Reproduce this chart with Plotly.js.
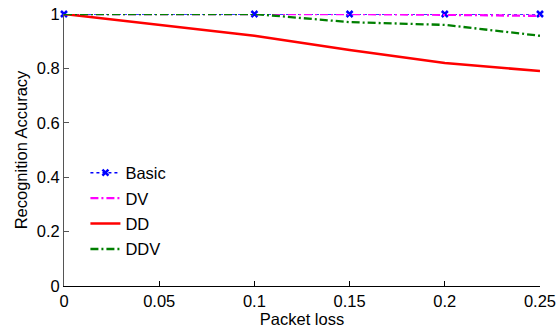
<!DOCTYPE html>
<html><head><meta charset="utf-8">
<script src="https://cdn.plot.ly/plotly-3.0.1.min.js"></script>
<style>body{margin:0;background:#fff}#c{width:558px;height:330px}</style>
</head><body><div id="c"></div>
<script>
const packetLoss = [0, 0.1, 0.15, 0.2, 0.25];
const basic = [1, 1, 1, 1, 1];
const dv = [1, 1, 1, 0.997, 0.993];
const dd = [1, 0.92, 0.868, 0.82, 0.79];
const ddv = [1, 1, 0.97, 0.96, 0.92];
const seriesNames = ['Basic', 'DV', 'DD', 'DDV'];

const traces = [
  {x: packetLoss, y: basic, name: seriesNames[0], mode: 'lines+markers', legendgroup: 'a',
   line: {color: '#0000ff', width: 1.5, dash: 'dot'},
   marker: {symbol: 'x-thin-open', size: 6, color: '#0000ff', line: {width: 2.5, color: '#0000ff'}}},
  {x: packetLoss, y: dv, name: seriesNames[1], mode: 'lines', legendgroup: 'b',
   line: {color: '#ff00ff', width: 2.3, dash: '8px,3px,2px,3px'}},
  {x: packetLoss, y: dd, name: seriesNames[2], mode: 'lines', legendgroup: 'c',
   line: {color: '#ff0000', width: 2.5}},
  {x: packetLoss, y: ddv, name: seriesNames[3], mode: 'lines', legendgroup: 'd',
   line: {color: '#007f00', width: 2.3, dash: '8px,3px,2px,3px'}}
];
traces.forEach(t => t.cliponaxis = false);

const layout = {
  width: 558, height: 330,
  margin: {l: 64, r: 18, t: 14, b: 44},
  paper_bgcolor: '#fff', plot_bgcolor: '#fff',
  font: {family: 'Liberation Sans, Arial, sans-serif', size: 16.5, color: '#000'},
  showlegend: true,
  legend: {x: 0.045, y: 0.48, xanchor: 'left', yanchor: 'top', bgcolor: 'rgba(0,0,0,0)',
           font: {size: 16.5}, tracegroupgap: 1},
  xaxis: {range: [0, 0.25], tickvals: [0, 0.05, 0.1, 0.15, 0.2, 0.25],
          ticktext: ['0', '0.05', '0.1', '0.15', '0.2', '0.25'],
          ticks: 'inside', ticklen: 5, tickcolor: '#000', showgrid: false, zeroline: false,
          showline: true, linecolor: '#000', linewidth: 1,
          title: {text: 'Packet loss', font: {size: 16.5}, standoff: 0}},
  yaxis: {range: [0, 1], tickvals: [0, 0.2, 0.4, 0.6, 0.8, 1],
          ticktext: ['0', '0.2', '0.4', '0.6', '0.8', '1'],
          ticks: 'inside', ticklen: 5, tickcolor: '#555', showgrid: false, zeroline: false,
          showline: true, linecolor: '#555', linewidth: 1,
          title: {text: 'Recognition Accuracy', font: {size: 16.5}, standoff: 4}}
};
Plotly.newPlot('c', traces, layout, {staticPlot: true});
</script></body></html>
